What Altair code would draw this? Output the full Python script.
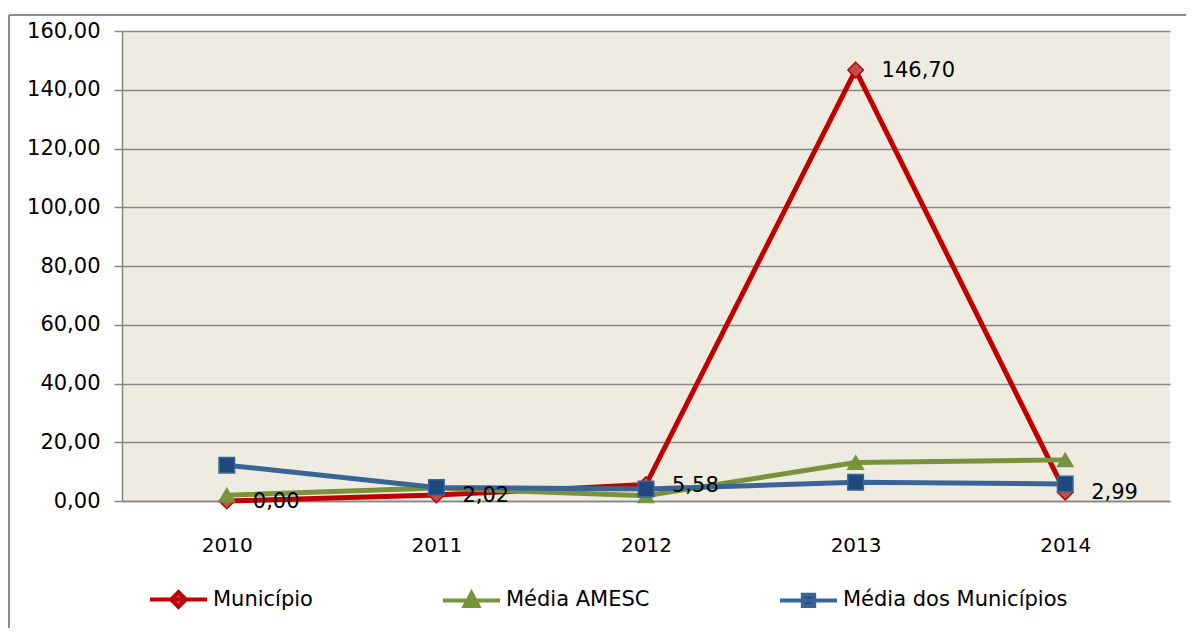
import altair as alt
import pandas as pd

years = ["2010", "2011", "2012", "2013", "2014"]
series_names = ["Município", "Média AMESC", "Média dos Municípios"]
municipio = [0.00, 2.02, 5.58, 146.70, 2.99]
media_amesc = [2.0, 4.4, 1.8, 13.1, 14.0]
media_municipios = [12.2, 4.6, 4.1, 6.4, 5.8]
y_ticks = [0, 20, 40, 60, 80, 100, 120, 140, 160]

line_colors = ["#C00000", "#77933C", "#3B6496"]
fill_colors = ["#C0504D", "#77933C", "#1F497D"]
shapes = ["diamond", "triangle-up", "square"]
legend_shapes = [
    "M-1,0H1M0,-0.26L0.26,0L0,0.26L-0.26,0Z",
    "M-1,0H1M0,-0.26L0.24,0.2L-0.24,0.2Z",
    "M-1,0H1M-0.2,-0.2H0.2V0.2H-0.2Z",
]

rows = []
for name, vals in zip(series_names, [municipio, media_amesc, media_municipios]):
    for yr, v in zip(years, vals):
        rows.append({"ano": yr, "serie": name, "valor": v})
df = pd.DataFrame(rows)
df_mun = df[df["serie"] == "Município"]

FONT = "DejaVu Sans"

x_enc = alt.X("ano:O", scale=alt.Scale(domain=years, type="point", padding=0.5),
              axis=alt.Axis(title=None, ticks=False, labelAngle=0, labelFont=FONT,
                            labelFontSize=20, labelColor="black", labelPadding=34,
                            domainColor="#868686", domainWidth=1.5, grid=False))
y_enc = alt.Y("valor:Q", scale=alt.Scale(domain=[0, 160], nice=False),
              axis=alt.Axis(title=None, values=y_ticks,
                            labelExpr="replace(format(datum.value, '.2f'), '.', ',')",
                            labelFont=FONT, labelFontSize=21, labelColor="black",
                            labelPadding=14, tickSize=8, tickColor="#868686",
                            tickWidth=1.5, domainColor="#868686", domainWidth=1.5,
                            gridColor="#868686", gridWidth=1.5))

def stroke_enc(legend=None):
    return alt.Stroke("serie:N", scale=alt.Scale(domain=series_names, range=line_colors),
                      legend=legend)

def fill_enc(legend=None):
    return alt.Fill("serie:N", scale=alt.Scale(domain=series_names, range=fill_colors),
                    legend=legend)

lines = alt.Chart(df).mark_line(strokeWidth=5).encode(
    x=x_enc, y=y_enc, stroke=stroke_enc(),
    order=alt.Order("ano:O"),
)

points = alt.Chart(df).mark_point(filled=True, size=240, strokeWidth=1.5, opacity=1).encode(
    x=x_enc, y=y_enc, stroke=stroke_enc(), fill=fill_enc(),
    shape=alt.Shape("serie:N", scale=alt.Scale(domain=series_names, range=shapes),
                    legend=None),
)

labels = alt.Chart(df_mun).transform_calculate(
    rotulo="replace(format(datum.valor, '.2f'), '.', ',')"
).mark_text(align="left", baseline="middle", dx=26, dy=1, font=FONT,
            fontSize=21, color="black").encode(x=x_enc, y=y_enc, text="rotulo:N")

leg = alt.Legend(
    orient="none", legendX=26, legendY=538, direction="horizontal",
    columns=3, title=None, padding=0, symbolSize=3249,
    symbolStrokeWidth=4, labelFont=FONT, labelFontSize=21,
    labelColor="black", labelOffset=4, columnPadding=122, labelLimit=400,
    symbolOpacity=1,
)
legend_layer = alt.Chart(df).transform_filter("false").mark_point(
    filled=True, strokeWidth=4, opacity=1
).encode(
    stroke=stroke_enc(leg), fill=fill_enc(leg),
    shape=alt.Shape("serie:N", scale=alt.Scale(domain=series_names, range=legend_shapes),
                    legend=leg),
)

frame_data = alt.Data(values=[{"k": 1}])
top_border = alt.Chart(frame_data).mark_rule(color="#8C8C8C", strokeWidth=2).encode(
    x=alt.value(-113), x2=alt.value(1064), y=alt.value(-16))
left_border = alt.Chart(frame_data).mark_rule(color="#8C8C8C", strokeWidth=2).encode(
    x=alt.value(-113), y=alt.value(-16), y2=alt.value(597))

chart = alt.layer(lines, points, labels, legend_layer, top_border, left_border).resolve_scale(
    stroke="independent", fill="independent", shape="independent"
).properties(
    width=1048, height=470,
    autosize=alt.AutoSizeParams(type="none"),
    padding={"left": 114, "top": 23, "right": 24, "bottom": 127},
    background="white",
    view=alt.ViewBackground(fill="#EEEBE0", strokeWidth=0),
).configure_view(fill="#EEEBE0", strokeWidth=0)

chart.save("out.html", embed_options={"renderer": "svg", "actions": False})
